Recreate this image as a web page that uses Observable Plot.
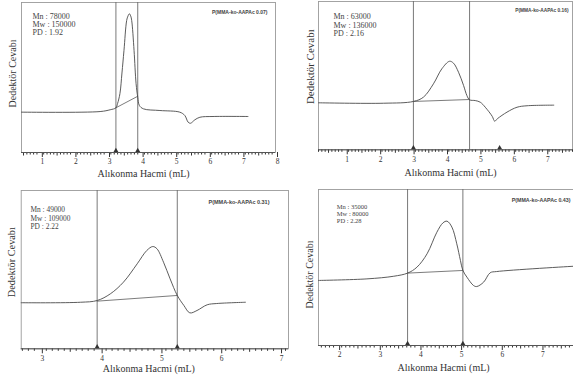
<!DOCTYPE html>
<html><head><meta charset="utf-8">
<script src="https://cdn.jsdelivr.net/npm/d3@7"></script>
<script src="https://cdn.jsdelivr.net/npm/@observablehq/plot@0.6"></script>
<style>
body{margin:0;background:#fff;}
#wrap{position:relative;width:573px;height:381px;overflow:hidden;background:#fff;}
.panel{position:absolute;}
.panel svg{overflow:visible;font-family:"Liberation Serif","Times New Roman",serif !important;}
</style></head><body><div id="wrap"></div>
<script>
// ---- texts ----
const xTitle = "Alıkonma Hacmi (mL)";
const yTitle = "Dedektör Cevabı";
const sampleNames = ["P(MMA-ko-AAPAc 0.07)", "P(MMA-ko-AAPAc 0.16)", "P(MMA-ko-AAPAc 0.31)", "P(MMA-ko-AAPAc 0.43)"];
const mnValues = ["78000", "63000", "49000", "35000"];
const mwValues = ["150000", "136000", "109000", "80000"];
const pdValues = ["1.92", "2.16", "2.22", "2.28"];

// ---- tick labels (retention volume, mL) ----
const ticks1 = [1, 2, 3, 4, 5, 6, 7, 8];
const ticks2 = [1, 2, 3, 4, 5, 6, 7];
const ticks3 = [3, 4, 5, 6, 7];
const ticks4 = [2, 3, 4, 5, 6, 7];

// ---- chromatograms: volume (mL) and detector response (arb.) ----
const vol1  = [0.44, 2.78, 3.08, 3.25, 3.30, 3.37, 3.43, 3.49, 3.57, 3.61, 3.65, 3.69, 3.72, 3.79, 3.85, 3.90, 3.95, 4.07, 4.56, 5.15, 5.30, 5.40, 5.47, 5.60, 5.75, 6.14, 7.18];
const resp1 = [26.9, 27.3, 28.5, 29.8, 32.7, 39.3, 53.0, 68.0, 88.0, 91.0, 92.5, 91.0, 88.0, 68.0, 46.0, 36.9, 31.3, 29.1, 28.0, 26.9, 24.7, 20.2, 19.5, 21.8, 23.5, 24.0, 24.0];
const vol2  = [0.2, 2.15, 3.04, 3.34, 3.64, 3.89, 4.12, 4.24, 4.39, 4.54, 4.64, 4.72, 4.89, 5.04, 5.19, 5.40, 5.47, 5.56, 5.84, 6.14, 6.44, 7.24];
const resp2 = [31.7, 31.4, 32.6, 35.5, 44.5, 54.6, 59.7, 58.4, 52.3, 43.4, 36.6, 33.7, 33.2, 32.1, 28.7, 22.5, 19.3, 21.1, 25.4, 28.7, 29.7, 30.1];
const vol3  = [2.68, 3.67, 3.95, 4.17, 4.39, 4.62, 4.78, 4.88, 4.95, 5.06, 5.17, 5.29, 5.40, 5.50, 5.62, 5.79, 5.95, 6.43];
const resp3 = [29.1, 29.4, 30.5, 34.7, 42.1, 53.7, 62.1, 64.6, 63.2, 54.7, 44.2, 33.7, 27.4, 22.7, 24.2, 27.8, 28.6, 29.4];
const vol4  = [1.53, 2.72, 3.38, 3.72, 3.95, 4.20, 4.44, 4.59, 4.69, 4.81, 4.93, 5.02, 5.08, 5.18, 5.34, 5.42, 5.59, 5.75, 5.91, 7.8];
const resp4 = [41.7, 42.7, 44.4, 46.4, 50.2, 58.8, 72.6, 78.6, 79.7, 75.9, 65.2, 54.5, 48.1, 43.8, 38.5, 37.8, 40.6, 46.6, 47.4, 50.8];

// ---- integration baselines, limits and markers ----
const baseX1 = [3.25, 3.90], baseY1 = [29.8, 37.5];
const baseX2 = [3.04, 4.72], baseY2 = [32.6, 33.9];
const baseX3 = [3.95, 5.29], baseY3 = [30.1, 33.7];
const baseX4 = [3.72, 5.08], baseY4 = [46.4, 48.1];
const limits1 = [3.25, 3.90], marks1 = [3.25, 3.90];
const limits2 = [3.04, 4.72], marks2 = [3.04, 5.62];
const limits3 = [3.95, 5.29], marks3 = [3.95, 5.29];
const limits4 = [3.72, 5.08], marks4 = [3.72, 5.08];

const zip = (xs, ys) => xs.map((x, i) => ({x, y: ys[i]}));

const panels = [
  {i:0, left:0,   top:0,   width:286, height:185, m:[2,11,33,21],     dom:[0.44,8.0], ticks:ticks1, vol:vol1, resp:resp1, bx:baseX1, by:baseY1, lim:limits1, mk:marks1,
   st:{dx:11, dy:10, fs:8, lh:1.06}, ti:{dx:-8, dy:10, fs:5}, xt:{dx:-5, dy:21}, yt:{dx:-9, dy:-4, fs:10}},
  {i:1, left:286, top:0,   width:287, height:185, m:[1,1,35.7,32],    dom:[0.2,7.8],  ticks:ticks2, vol:vol2, resp:resp2, bx:baseX2, by:baseY2, lim:limits2, mk:marks2,
   st:{dx:15, dy:12, fs:8, lh:1.03}, ti:{dx:-4, dy:9, fs:4.8}, xt:{dx:5, dy:23.4}, yt:{dx:-8, dy:-9, fs:11}},
  {i:2, left:0,   top:188, width:290, height:193, m:[2,2,32.7,20.7],  dom:[2.68,7.15], ticks:ticks3, vol:vol3, resp:resp3, bx:baseX3, by:baseY3, lim:limits3, mk:marks3,
   st:{dx:9.3, dy:15, fs:7.4, lh:1.19}, ti:{dx:-19, dy:11.7, fs:5.5}, xt:{dx:-6, dy:20}, yt:{dx:-9, dy:-7.5, fs:10.3}},
  {i:3, left:286, top:188, width:287, height:193, m:[1,0,36,32],      dom:[1.53,7.8], ticks:ticks4, vol:vol4, resp:resp4, bx:baseX4, by:baseY4, lim:limits4, mk:marks4,
   st:{dx:18.3, dy:15, fs:6.5, lh:1.03}, ti:{dx:-3, dy:11, fs:5.3}, xt:{dx:-2.5, dy:22.7}, yt:{dx:-9, dy:7, fs:10}}
];

const serif = "Liberation Serif";
const sans = "Liberation Sans";
const wrap = document.getElementById("wrap");

for (const p of panels) {
  const tenths = d3.range(Math.ceil(p.dom[0]*10), Math.floor(p.dom[1]*10)+1).map(d => d/10);
  const minor = tenths.filter(d => Math.abs(d*2 - Math.round(d*2)) > 1e-6);
  const half = tenths.filter(d => Math.abs(d*2 - Math.round(d*2)) < 1e-6 && Math.abs(d - Math.round(d)) > 1e-6);
  const stats = `Mn : ${mnValues[p.i]}\nMw : ${mwValues[p.i]}\nPD : ${pdValues[p.i]}`;
  const chart = Plot.plot({
    width: p.width, height: p.height,
    marginTop: p.m[0], marginRight: p.m[1], marginBottom: p.m[2], marginLeft: p.m[3],
    x: {domain: p.dom, axis: null},
    y: {domain: [0, 100], axis: null},
    style: {background: "transparent", color: "#333"},
    marks: [
      Plot.frame({stroke: "#9a9a9a", strokeWidth: 0.9}),
      // ruler-style ticks hanging below the axis line
      Plot.axisX({ticks: minor, tickSize: 2.5, tickFormat: () => "", label: null, stroke: "#333", strokeWidth: 1}),
      Plot.axisX({ticks: half, tickSize: 3.5, tickFormat: () => "", label: null, stroke: "#333", strokeWidth: 1}),
      Plot.axisX({ticks: p.ticks, tickSize: 5, tickPadding: 1.5, tickFormat: d => String(d), label: null, fontSize: 7.5, fontFamily: serif, dx: 2, stroke: "#333", fill: "#333", strokeWidth: 1}),
      Plot.ruleY([0], {stroke: "#555", strokeWidth: 1}),
      Plot.ruleX(p.lim, {stroke: "#6a6a6a", strokeWidth: 0.9}),
      Plot.line(zip(p.bx, p.by), {x: "x", y: "y", stroke: "#5a5a5a", strokeWidth: 0.8}),
      Plot.line(zip(p.vol, p.resp), {x: "x", y: "y", curve: "catmull-rom", stroke: "#4a4a4a", strokeWidth: 0.9}),
      Plot.dot(p.mk, {x: d => d, frameAnchor: "bottom", dy: -2, symbol: "triangle", r: 1.8, fill: "#333", stroke: "none"}),
      Plot.text([stats], {frameAnchor: "top-left", textAnchor: "start", lineAnchor: "top", dx: p.st.dx, dy: p.st.dy, fontSize: p.st.fs, lineHeight: p.st.lh, fontFamily: serif, fill: "#444"}),
      Plot.text([sampleNames[p.i]], {frameAnchor: "top-right", textAnchor: "end", lineAnchor: "middle", dx: p.ti.dx, dy: p.ti.dy, fontSize: p.ti.fs, fontWeight: "bold", fontFamily: sans, fill: "#444"}),
      Plot.text([xTitle], {frameAnchor: "bottom", textAnchor: "middle", lineAnchor: "middle", dx: p.xt.dx, dy: p.xt.dy, fontSize: 10, fontFamily: serif, fill: "#333"}),
      Plot.text([yTitle], {frameAnchor: "left", textAnchor: "middle", lineAnchor: "middle", rotate: -90, dx: p.yt.dx, dy: p.yt.dy, fontSize: p.yt.fs, fontFamily: serif, fill: "#333"})
    ]
  });
  const div = document.createElement("div");
  div.className = "panel";
  div.style.left = p.left + "px";
  div.style.top = p.top + "px";
  div.appendChild(chart);
  wrap.appendChild(div);
}
</script></body></html>
